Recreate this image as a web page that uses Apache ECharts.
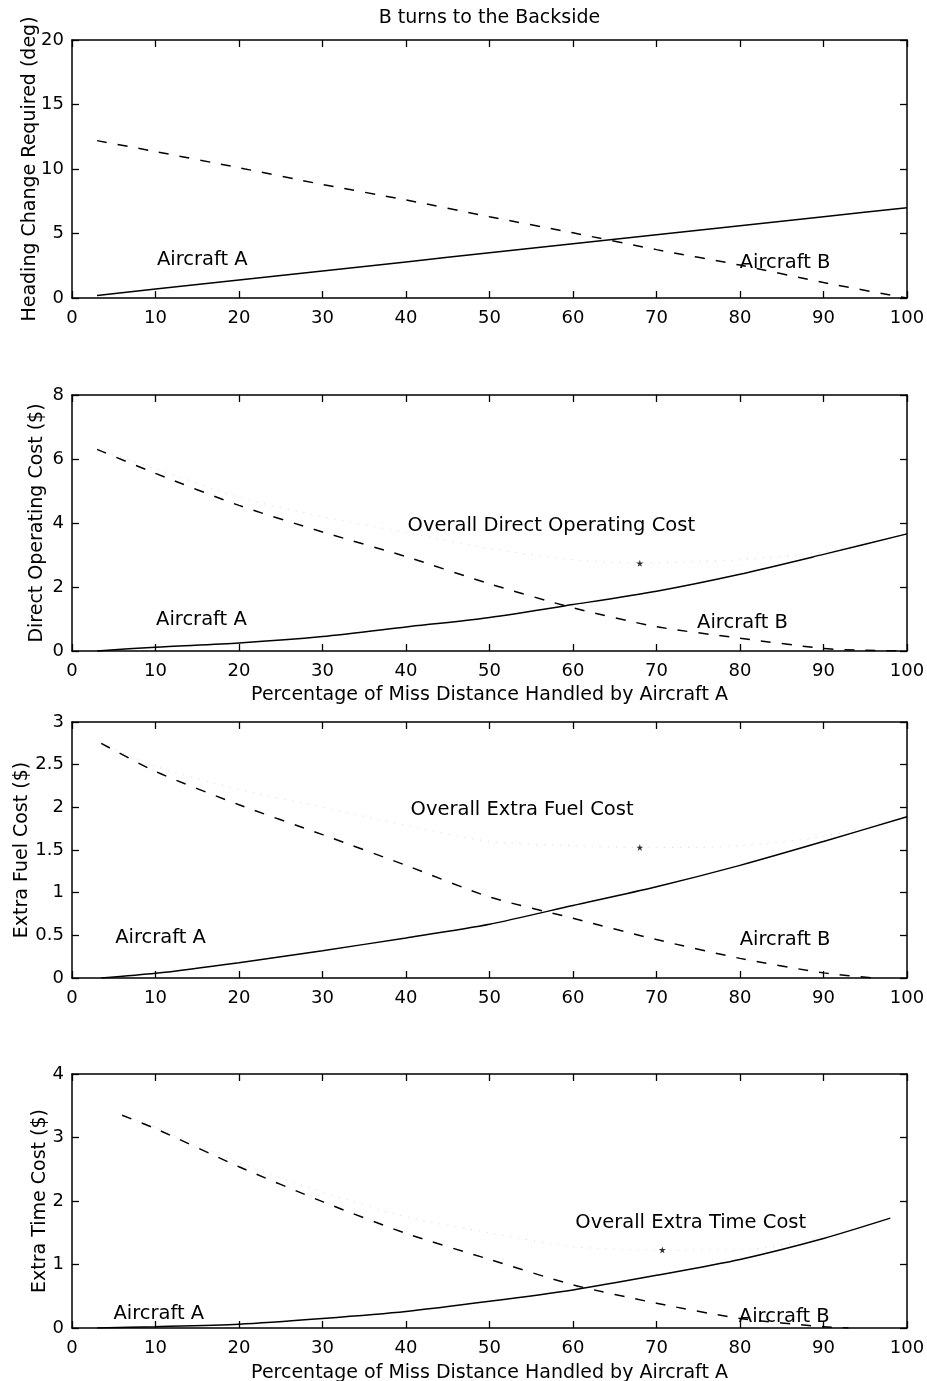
<!DOCTYPE html>
<html>
<head>
<meta charset="utf-8">
<script src="https://cdn.jsdelivr.net/npm/echarts@6/dist/echarts.min.js"></script>
<style>
  html, body { margin: 0; padding: 0; background: #fff; }
  #chart { width: 927px; height: 1381px; }
</style>
</head>
<body>
<div id="chart"></div>
<script>
// Share of the miss distance handled by aircraft A (%)
const xTickValues = [0, 10, 20, 30, 40, 50, 60, 70, 80, 90, 100];

// Heading change required (deg)
const headingAX = [3, 10, 20, 30, 40, 50, 60, 70, 80, 90, 100];
const headingA  = [0.2, 0.7, 1.4, 2.1, 2.8, 3.5, 4.2, 4.9, 5.6, 6.3, 7.0];
const headingBX = [3, 10, 20, 30, 40, 50, 60, 70, 80, 90, 100];
const headingB  = [12.2, 11.35, 10.1, 8.8, 7.6, 6.3, 5.05, 3.75, 2.55, 1.2, 0];

// Direct operating cost ($)
const docAX = [3, 10, 20, 30, 40, 50, 60, 70, 80, 90, 100];
const docA  = [0, 0.12, 0.25, 0.45, 0.75, 1.05, 1.45, 1.87, 2.40, 3.02, 3.66];
const docBX = [3, 10, 20, 30, 40, 50, 60, 70, 80, 90, 95, 100];
const docB  = [6.3, 5.55, 4.55, 3.72, 2.95, 2.1, 1.35, 0.76, 0.40, 0.08, 0.02, 0];
const docOverallX = [3, 10, 20, 30, 40, 50, 60, 68, 75, 80, 90, 100];
const docOverall  = [6.3, 5.7, 4.8, 4.2, 3.7, 3.2, 2.85, 2.75, 2.8, 2.85, 3.1, 3.66];
const docMinimum  = [68, 2.74];

// Extra fuel cost ($)
const fuelAX = [3.5, 10, 20, 30, 40, 50, 60, 70, 80, 90, 100];
const fuelA  = [0, 0.055, 0.18, 0.32, 0.47, 0.63, 0.85, 1.07, 1.32, 1.60, 1.89];
const fuelBX = [3.5, 10, 20, 30, 40, 50, 60, 70, 80, 90, 96];
const fuelB  = [2.75, 2.42, 2.03, 1.68, 1.32, 0.95, 0.70, 0.45, 0.23, 0.06, 0];
const fuelOverallX = [3.5, 10, 20, 30, 40, 50, 60, 68, 74, 80, 90, 100];
const fuelOverall  = [2.75, 2.48, 2.21, 2.0, 1.79, 1.6, 1.55, 1.53, 1.53, 1.55, 1.66, 1.89];
const fuelMinimum  = [68, 1.53];

// Extra time cost ($)
const timeAX = [3, 10, 20, 30, 40, 50, 60, 70, 80, 90, 98];
const timeA  = [0, 0.02, 0.06, 0.15, 0.26, 0.42, 0.60, 0.83, 1.08, 1.41, 1.73];
const timeBX = [6, 10, 20, 30, 40, 50, 60, 70, 80, 90, 93];
const timeB  = [3.35, 3.14, 2.54, 1.99, 1.49, 1.08, 0.68, 0.39, 0.15, 0.02, 0];
const timeOverallX = [6, 10, 20, 30, 40, 50, 60, 70.7, 80, 90, 98];
const timeOverall  = [3.35, 3.16, 2.6, 2.14, 1.75, 1.5, 1.28, 1.23, 1.23, 1.43, 1.73];
const timeMinimum  = [70.7, 1.23];

// Text annotations: [panel, x, y, text]
const notes = [
  [0, 15.6, 2.95, 'Aircraft A'],
  [0, 85.4, 2.75, 'Aircraft B'],
  [1, 57.4, 3.92, 'Overall Direct Operating Cost'],
  [1, 15.5, 0.97, 'Aircraft A'],
  [1, 80.3, 0.88, 'Aircraft B'],
  [2, 53.9, 1.97, 'Overall Extra Fuel Cost'],
  [2, 10.6, 0.47, 'Aircraft A'],
  [2, 85.4, 0.445, 'Aircraft B'],
  [3, 74.1, 1.65, 'Overall Extra Time Cost'],
  [3, 10.4, 0.22, 'Aircraft A'],
  [3, 85.3, 0.18, 'Aircraft B']
];

const titleText = 'B turns to the Backside';
const xName = 'Percentage of Miss Distance Handled by Aircraft A';
const yNames = ['Heading Change Required (deg)', 'Direct Operating Cost ($)', 'Extra Fuel Cost ($)', 'Extra Time Cost ($)'];
const yRanges = [[0, 20, 5], [0, 8, 2], [0, 3, 0.5], [0, 4, 1]];

// Layout
const FONT = 'DejaVu Sans';
const panels = [
  { top: 40, height: 258, yGap: 32, xGap: 35 },
  { top: 395, height: 256, yGap: 25, xGap: 35, xNamed: true },
  { top: 722, height: 256, yGap: 40, xGap: 35 },
  { top: 1074, height: 254, yGap: 22, xGap: 36, xNamed: true }
];

const axisLine = { show: true, onZero: false, lineStyle: { color: '#000', width: 1.5 } };
const axisTick = { show: true, inside: true, length: 7, lineStyle: { color: '#000', width: 1.3 } };

const grid = panels.map(p => ({
  left: 72, right: 20, top: p.top, height: p.height,
  containLabel: false, outerBoundsMode: 'none'
}));

const xAxis = [];
const yAxis = [];
panels.forEach((p, g) => {
  const [ymin, ymax, yint] = yRanges[g];
  xAxis.push({
    type: 'value', gridIndex: g, position: 'bottom',
    min: xTickValues[0], max: xTickValues[xTickValues.length - 1], interval: 10,
    axisLine, axisTick, splitLine: { show: false },
    axisLabel: { color: '#000', fontSize: 18, fontFamily: FONT, margin: 11 },
    name: p.xNamed ? xName : '', nameLocation: 'middle', nameGap: p.xGap, nameMoveOverlap: false,
    nameTextStyle: { color: '#000', fontSize: 19, fontFamily: FONT }
  });
  xAxis.push({
    type: 'value', gridIndex: g, position: 'top',
    min: xTickValues[0], max: xTickValues[xTickValues.length - 1], interval: 10,
    axisLine, axisTick, splitLine: { show: false }, axisLabel: { show: false }
  });
  yAxis.push({
    type: 'value', gridIndex: g, position: 'left',
    min: ymin, max: ymax, interval: yint,
    axisLine, axisTick, splitLine: { show: false },
    axisLabel: { color: '#000', fontSize: 18, fontFamily: FONT, margin: 8 },
    name: yNames[g], nameLocation: 'middle', nameGap: p.yGap, nameMoveOverlap: false,
    nameTextStyle: { color: '#000', fontSize: 19, fontFamily: FONT }
  });
  yAxis.push({
    type: 'value', gridIndex: g, position: 'right',
    min: ymin, max: ymax, interval: yint,
    axisLine, axisTick, splitLine: { show: false }, axisLabel: { show: false }
  });
});

const pairs = (xs, ys) => xs.map((x, i) => [x, ys[i]]);

function curve(g, xs, ys, kind) {
  const style = {
    solid:  { color: '#000', width: 1.5, type: 'solid' },
    dashed: { color: '#000', width: 1.5, type: [10, 11] },
    faint:  { color: '#d6d6d6', width: 1, type: [1, 7] }
  }[kind];
  return {
    type: 'line', xAxisIndex: 2 * g, yAxisIndex: 2 * g,
    data: pairs(xs, ys), showSymbol: false, symbol: 'none',
    smooth: 0.25, lineStyle: style,
    silent: true, animation: false, z: kind === 'faint' ? 1 : 3
  };
}

const STAR = 'path://M0,-1L0.22,-0.3L0.95,-0.3L0.36,0.12L0.59,0.81L0,0.38L-0.59,0.81L-0.36,0.12L-0.95,-0.3L-0.22,-0.3Z';
function minimumMark(g, point) {
  return {
    type: 'scatter', xAxisIndex: 2 * g, yAxisIndex: 2 * g,
    data: [point], symbol: STAR, symbolSize: 7,
    itemStyle: { color: '#000' }, silent: true, animation: false, z: 4
  };
}

const series = [
  curve(0, headingAX, headingA, 'solid'),
  curve(0, headingBX, headingB, 'dashed'),

  curve(1, docOverallX, docOverall, 'faint'),
  curve(1, docAX, docA, 'solid'),
  curve(1, docBX, docB, 'dashed'),
  minimumMark(1, docMinimum),

  curve(2, fuelOverallX, fuelOverall, 'faint'),
  curve(2, fuelAX, fuelA, 'solid'),
  curve(2, fuelBX, fuelB, 'dashed'),
  minimumMark(2, fuelMinimum),

  curve(3, timeOverallX, timeOverall, 'faint'),
  curve(3, timeAX, timeA, 'solid'),
  curve(3, timeBX, timeB, 'dashed'),
  minimumMark(3, timeMinimum)
];

const chart = echarts.init(document.getElementById('chart'), null, { renderer: 'canvas' });
chart.setOption({
  backgroundColor: '#fff',
  animation: false,
  grid, xAxis, yAxis, series
});

// Title and curve annotations; annotations are placed through each panel's axes
const graphics = [{
  type: 'text', x: 489.5, y: 18,
  style: {
    text: titleText, fill: '#000', fontSize: 19, fontFamily: FONT,
    align: 'center', verticalAlign: 'middle'
  }
}];
notes.forEach(([g, x, y, text]) => {
  const [px, py] = chart.convertToPixel({ xAxisIndex: 2 * g, yAxisIndex: 2 * g }, [x, y]);
  graphics.push({
    type: 'text', x: px, y: py, z: 10,
    style: {
      text, fill: '#000', fontSize: 19.5, fontFamily: FONT,
      align: 'center', verticalAlign: 'middle'
    }
  });
});
chart.setOption({ graphic: graphics });
</script>
</body>
</html>
